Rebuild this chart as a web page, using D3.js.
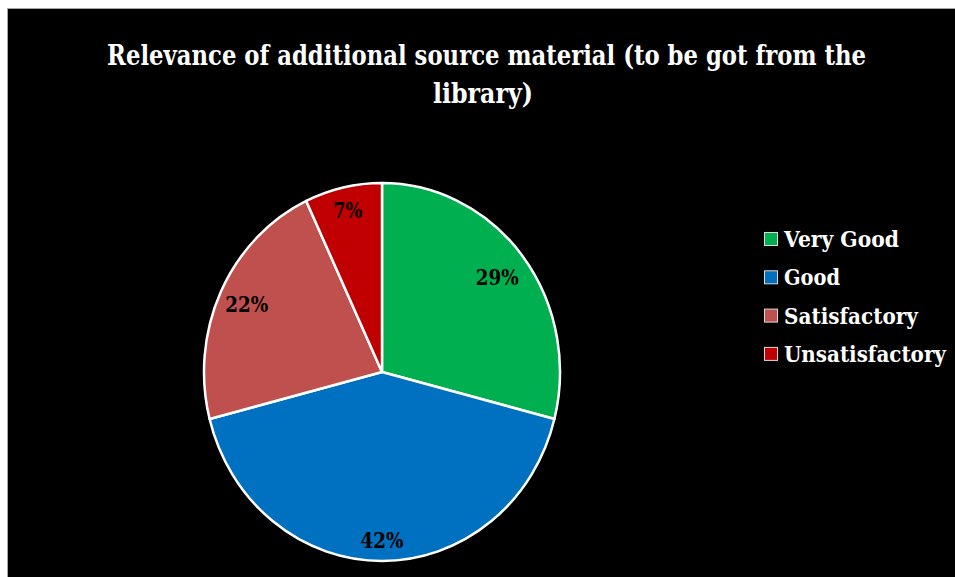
<!DOCTYPE html>
<html>
<head>
<meta charset="utf-8">
<script src="https://cdn.jsdelivr.net/npm/d3@7"></script>
<style>
  html, body { margin: 0; padding: 0; background: #ffffff; overflow: hidden; }
  svg { display: block; }
  text { font-family: "DejaVu Serif", "Liberation Serif", serif; font-weight: bold; }
</style>
</head>
<body>
<svg id="chart" width="955" height="577"></svg>
<script>
// Survey responses (percent of respondents)
const categories = ["Very Good", "Good", "Satisfactory", "Unsatisfactory"];
const shares = [29, 42, 22, 7];
const sliceColors = ["#00b050", "#0070c0", "#c0504d", "#c00000"];
const titleLines = ["Relevance of additional source material (to be got from the", "library)"];

const svg = d3.select("#chart");
const W = 955, H = 577;

// Chart area: black panel running off the right and bottom, grey outline on top/left
svg.append("rect")
  .attr("x", 7.5).attr("y", 8.5)
  .attr("width", W).attr("height", H)
  .attr("fill", "#000000");
svg.append("path")
  .attr("d", `M7.5,${H + 2}V8.5H${W + 2}`)
  .attr("fill", "none")
  .attr("stroke", "#a6a6a6").attr("stroke-width", 1);

// Place a text so that it spans [x0, x0 + width] by squeezing it horizontally
function placeFitted(parent, str, x0, y, width, size, color) {
  const t = parent.append("text")
    .attr("x", 0).attr("y", 0)
    .attr("font-size", size)
    .attr("fill", color)
    .text(str);
  const natural = t.node().getComputedTextLength();
  const sx = width / natural;
  t.attr("transform", `translate(${x0},${y}) scale(${sx},1)`);
  return t;
}

// Title
const titleSpecs = [
  { text: titleLines[0], cx: 486.5, y: 65, w: 759 },
  { text: titleLines[1], cx: 483, y: 103, w: 100 }
];
titleSpecs.forEach(t => placeFitted(svg, t.text, t.cx - t.w / 2, t.y, t.w, 27, "#ffffff"));

// Pie (drawn as a slightly tall ellipse)
const cx = 382, cy = 372, ry = 189, rx = 178;
const pie = d3.pie().sort(null).value(d => d.value);
const data = categories.map((c, i) => ({ name: c, value: shares[i], color: sliceColors[i] }));
const arcs = pie(data);
const arc = d3.arc().innerRadius(0).outerRadius(ry);

const pieG = svg.append("g")
  .attr("transform", `translate(${cx},${cy}) scale(${rx / ry},1)`);

pieG.selectAll("path")
  .data(arcs)
  .join("path")
  .attr("d", arc)
  .attr("fill", d => d.data.color)
  .attr("stroke", "#ffffff")
  .attr("stroke-width", 2.5)
  .attr("stroke-linejoin", "round")
  .style("vector-effect", "non-scaling-stroke");

// Percentage labels, placed along each slice's mid-angle
const labelR = [0.82, 0.89, 0.84, 0.88];
const labelW = [43, 43, 43, 29];
arcs.forEach((a, i) => {
  const mid = (a.startAngle + a.endAngle) / 2;
  const r = ry * labelR[i];
  const x = cx + Math.sin(mid) * r * (rx / ry);
  const y = cy - Math.cos(mid) * r;
  placeFitted(svg, a.data.value + "%", x - labelW[i] / 2, y + 8, labelW[i], 22, "#000000");
});

// Legend
const legendX = 764, legendY0 = 232, legendStep = 38.3;
const legendW = [115, 56, 134, 162];
const legend = svg.append("g");
data.forEach((d, i) => {
  const y = legendY0 + i * legendStep;
  legend.append("rect")
    .attr("x", legendX + 0.5).attr("y", y + 0.5)
    .attr("width", 13).attr("height", 13)
    .attr("fill", d.color)
    .attr("stroke", "#d9d9d9").attr("stroke-width", 1);
  placeFitted(legend, d.name, 784, y + 15, legendW[i], 22, "#ffffff");
});
</script>
</body>
</html>
